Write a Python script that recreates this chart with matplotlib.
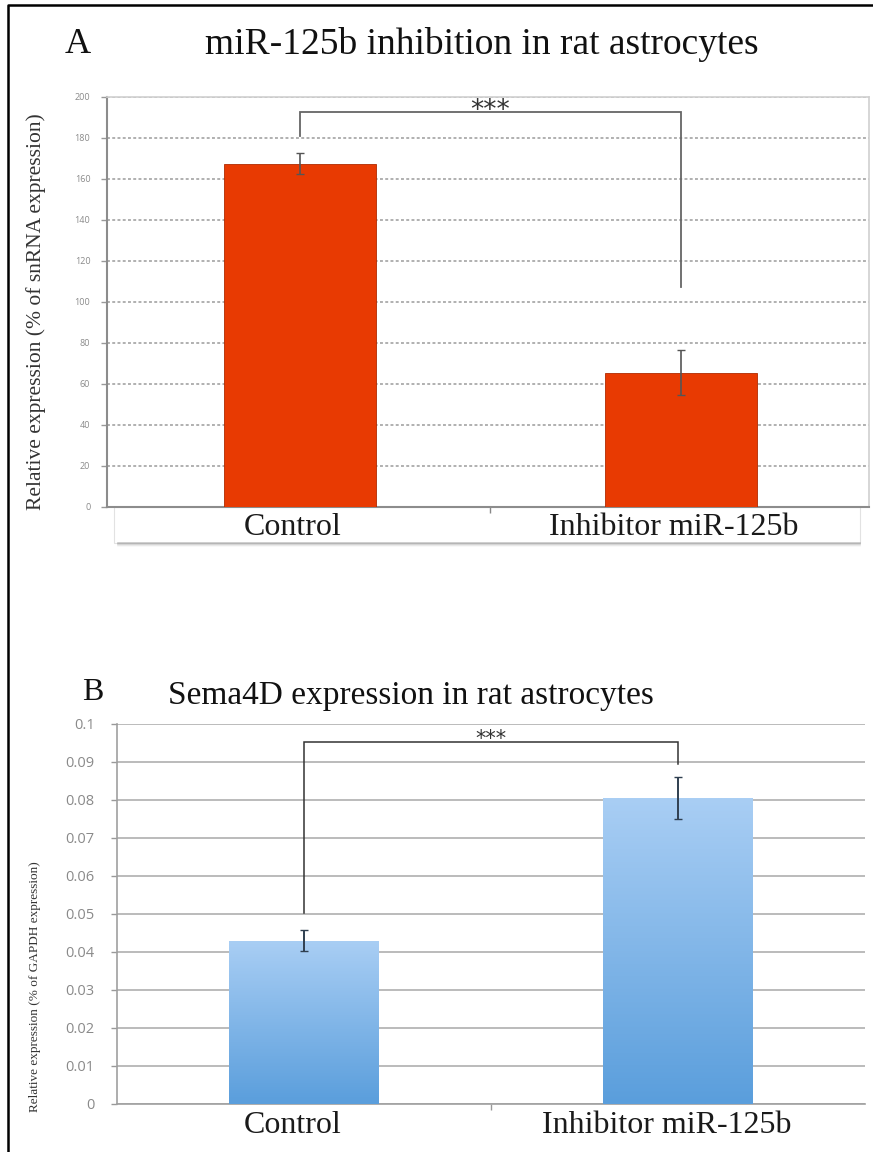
import numpy as np
import matplotlib
matplotlib.use("Agg")
from matplotlib import pyplot as plt
from matplotlib.lines import Line2D
from matplotlib.patches import Rectangle
from matplotlib.colors import LinearSegmentedColormap

categories = ["Control", "Inhibitor miR-125b"]

# miR-125b, % of snRNA expression
mir125b_mean = [167.5, 65.5]
mir125b_err = [5.0, 11.0]

# Sema4D, % of GAPDH expression
sema4d_mean = [0.043, 0.0805]
sema4d_err = [0.0027, 0.0055]

yticks_a = list(range(0, 201, 20))
yticks_b = [0, 0.01, 0.02, 0.03, 0.04, 0.05, 0.06, 0.07, 0.08, 0.09, 0.1]
yticklabels_b = ["0", "0.01", "0.02", "0.03", "0.04", "0.05", "0.06", "0.07", "0.08", "0.09", "0.1"]

serif = "Liberation Serif"
sans = "Open Sans"
tick_grey = "#8a8a8a"

fig = plt.figure(figsize=(8.73, 11.52), dpi=100)
fig.patch.set_facecolor("white")


def bracket(ax, x0, x1, y_top, y_left, y_right, color, lw, star_size, star_dy):
    ax.plot([x0, x0, x1, x1], [y_left, y_top, y_top, y_right],
            color=color, lw=lw, solid_joinstyle="miter", clip_on=False, zorder=4)
    ax.text((x0 + x1) / 2, y_top + star_dy, "***", ha="center", va="bottom",
            fontsize=star_size, family="DejaVu Sans", color="#333333", zorder=5)


# ---- panel A ----
axA = fig.add_axes([0.1226, 0.5599, 0.873, 0.3559])
x = np.arange(len(categories))
axA.bar(x, mir125b_mean, width=0.40, color="#E83A02", edgecolor="#b02a00",
        linewidth=0.6, zorder=3)
axA.errorbar(x, mir125b_mean, yerr=mir125b_err, fmt="none", ecolor="#555555",
             elinewidth=1.2, capsize=3, capthick=1.0, zorder=4)
axA.set_xlim(-0.506, 1.494)
axA.set_ylim(0, 200)
axA.set_yticks(yticks_a)
axA.set_yticklabels([str(v) for v in yticks_a], fontsize=6.5, color=tick_grey, family=sans)
axA.yaxis.grid(True, color="#b0b0b0", linestyle=(0, (1.5, 1.2)), lw=1.4, zorder=0)
axA.set_axisbelow(True)
axA.set_xticks([0.5])
axA.set_xticklabels([])
axA.tick_params(axis="x", length=4, color="#888888", width=1)
axA.tick_params(axis="y", length=4, color="#999999", width=1, pad=8)
for side in ["top", "right"]:
    axA.spines[side].set_color("#d0d0d0")
    axA.spines[side].set_linewidth(1.2)
axA.spines["left"].set_color("#8c8c8c")
axA.spines["left"].set_linewidth(1.5)
axA.spines["bottom"].set_color("#8c8c8c")
axA.spines["bottom"].set_linewidth(1.5)
axA.set_ylabel("Relative expression (% of snRNA expression)", family=serif,
               fontsize=15.5, color="#333333")
axA.yaxis.set_label_coords(-0.08, 0.476)
bracket(axA, 0, 1, 192.5, 181, 107.5, "#666666", 1.3, 19, -5.5)

# shadowed label strip under panel A
fig.add_artist(Rectangle((0.131, 0.529), 0.854, 0.031, transform=fig.transFigure,
                         fc="white", ec="#e2e2e2", lw=0.8, zorder=0))
for i, a in enumerate([0.55, 0.35, 0.18, 0.08]):
    fig.add_artist(Line2D([0.135, 0.985], [0.5285 - i * 0.0009] * 2,
                          transform=fig.transFigure, color="#9a9a9a", alpha=a, lw=1.2))
for xi, lab in zip(x, categories):
    axA.text(xi - 0.02, -3.0, lab, ha="center", va="top", family=serif, fontsize=23,
             color="#1a1a1a", clip_on=False)

fig.text(0.074, 0.961, "A", family=serif, fontsize=26, va="center", ha="left", color="#111111")
fig.text(0.235, 0.961, "miR-125b inhibition in rat astrocytes", family=serif,
         fontsize=27, va="center", ha="left", color="#111111")

# ---- panel B ----
axB = fig.add_axes([0.134, 0.0417, 0.857, 0.3299])
bars = axB.bar(x, sema4d_mean, width=0.40, color="none", edgecolor="none", zorder=3)
cmap = LinearSegmentedColormap.from_list("blue_grad", ["#5A9EDC", "#A9CEF4"])
grad = np.linspace(0, 1, 256).reshape(-1, 1)
for rect in bars:
    x0, y0 = rect.get_x(), rect.get_y()
    im = axB.imshow(grad, cmap=cmap, origin="lower", aspect="auto", zorder=3,
                    extent=[x0, x0 + rect.get_width(), y0, y0 + rect.get_height()])
    im.set_clip_path(rect)
axB.errorbar(x, sema4d_mean, yerr=sema4d_err, fmt="none", ecolor="#2f3f50",
             elinewidth=1.4, capsize=3, capthick=1.0, zorder=4)
axB.set_xlim(-0.5, 1.5)
axB.set_ylim(0, 0.1)
axB.set_yticks(yticks_b)
axB.set_yticklabels(yticklabels_b, fontsize=10.5, color=tick_grey, family=sans)
axB.yaxis.grid(True, color="#a8a8a8", linestyle="-", lw=1.1, zorder=0)
axB.set_axisbelow(True)
axB.set_xticks([0.5])
axB.set_xticklabels([])
axB.tick_params(axis="x", length=4, color="#999999", width=1)
axB.tick_params(axis="y", length=4, color="#999999", width=1, pad=12)
for side in ["top", "right"]:
    axB.spines[side].set_visible(False)
axB.spines["left"].set_color("#a0a0a0")
axB.spines["left"].set_linewidth(1.2)
axB.spines["bottom"].set_color("#a0a0a0")
axB.spines["bottom"].set_linewidth(1.2)
axB.set_ylabel("Relative expression (% of GAPDH expression)", family=serif,
               fontsize=9.5, color="#333333")
axB.yaxis.set_label_coords(-0.102, 0.31)
bracket(axB, 0.0, 1.0, 0.0953, 0.0503, 0.0895, "#333333", 1.1, 15, -0.0018)
for xi, lab in zip(x, categories):
    axB.text(xi - 0.03, -0.0018, lab, ha="center", va="top", family=serif, fontsize=23,
             color="#1a1a1a", clip_on=False)

fig.text(0.094, 0.399, "B", family=serif, fontsize=23, va="center", ha="left", color="#111111")
fig.text(0.193, 0.396, "Sema4D expression in rat astrocytes", family=serif,
         fontsize=24, va="center", ha="left", color="#111111")

# outer frame (top and left edges)
fig.add_artist(Line2D([0.0092, 0.0092, 1.01], [-0.01, 0.9957, 0.9957],
                      transform=fig.transFigure, color="black", lw=1.8))

fig.savefig("out.png", dpi=100)
